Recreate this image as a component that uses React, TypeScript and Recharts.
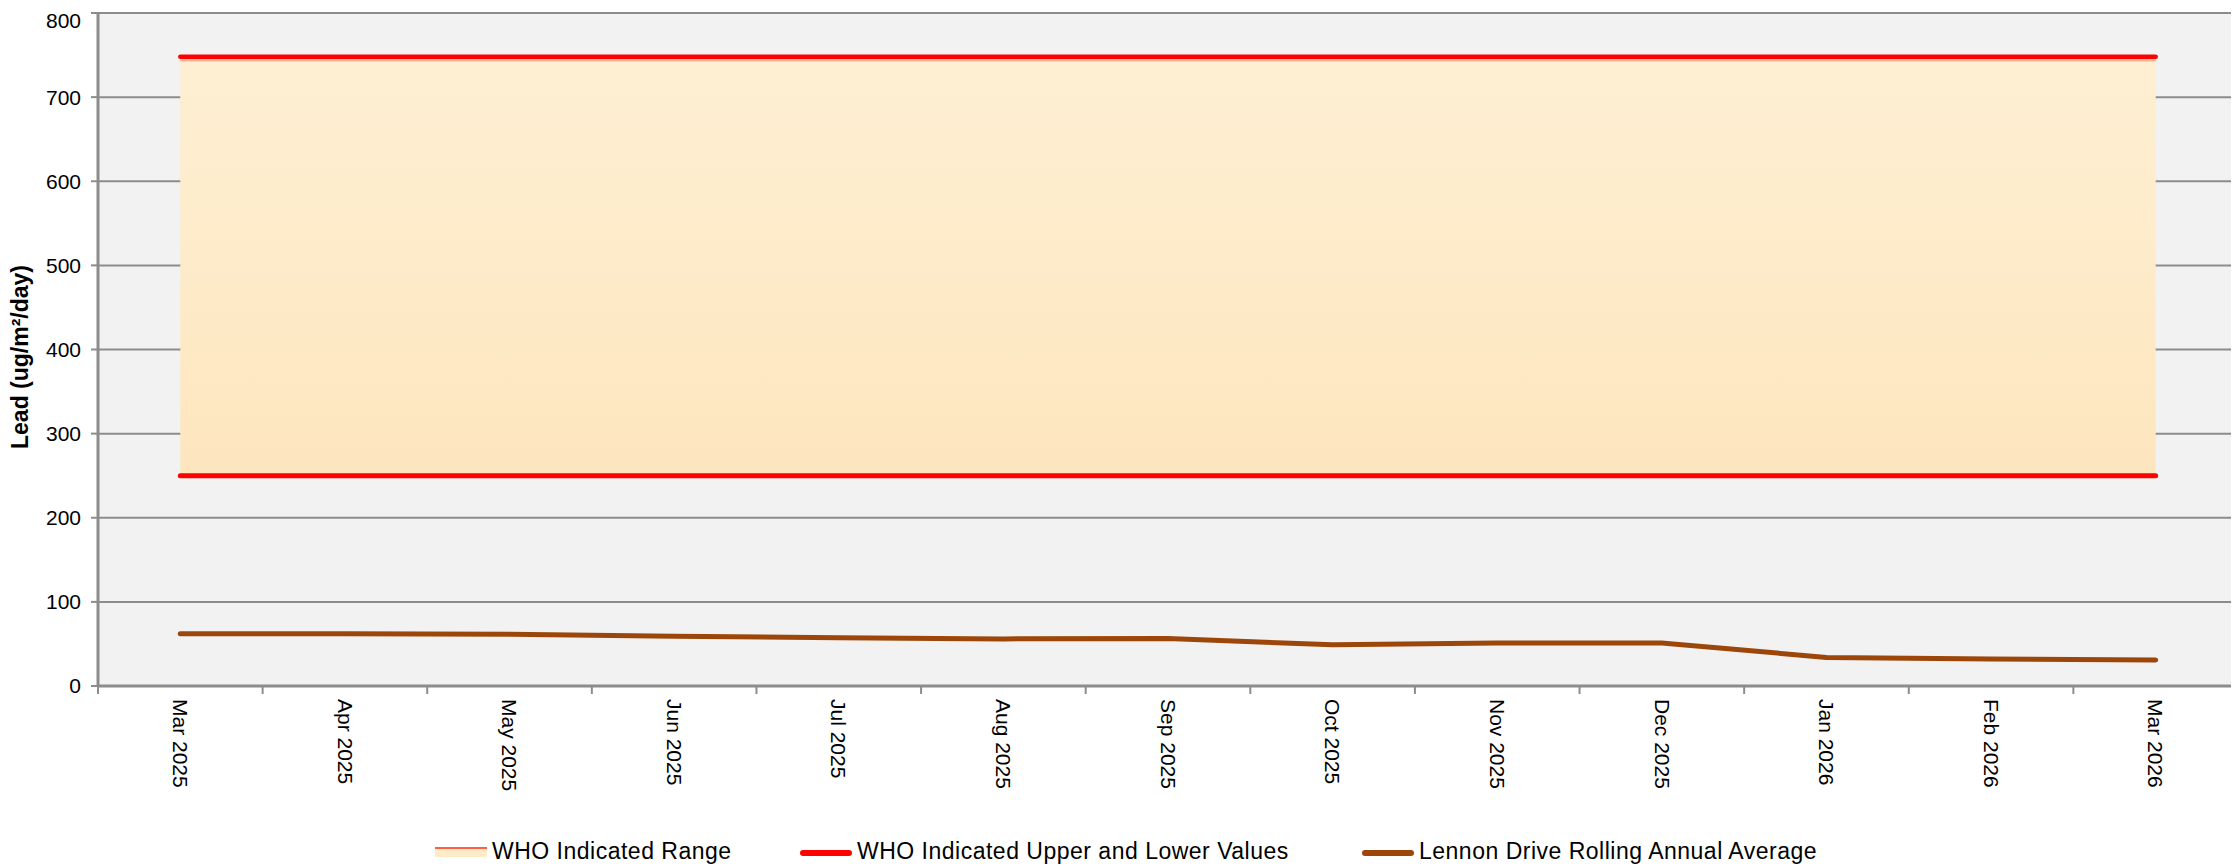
import React from 'react';
import { ComposedChart, Area, Line, XAxis, YAxis, CartesianGrid, ReferenceLine } from 'recharts';

const months = [
  'Mar 2025', 'Apr 2025', 'May 2025', 'Jun 2025', 'Jul 2025', 'Aug 2025', 'Sep 2025',
  'Oct 2025', 'Nov 2025', 'Dec 2025', 'Jan 2026', 'Feb 2026', 'Mar 2026',
];
const lennonAvg = [62, 62, 61.5, 59, 57.5, 56, 56.5, 49, 51, 51, 34, 32, 31];
const whoLower = [250, 250, 250, 250, 250, 250, 250, 250, 250, 250, 250, 250, 250];
const whoUpper = [748, 748, 748, 748, 748, 748, 748, 748, 748, 748, 748, 748, 748];
const rangeTop = [744, 744, 744, 744, 744, 744, 744, 744, 744, 744, 744, 744, 744];
const yTicks = [0, 100, 200, 300, 400, 500, 600, 700, 800];

const data = months.map((m, i) => ({
  i,
  month: m,
  range: [whoLower[i], rangeTop[i]],
  upper: whoUpper[i],
  lower: whoLower[i],
  lennon: lennonAvg[i],
}));

// ticks at every half step: integers carry labels, halves carry the tick marks between months
const xTicks: number[] = [];
for (let k = -1; k < months.length * 2; k++) xTicks.push(k / 2);

const FONT = '"Liberation Sans", Arial, sans-serif';
const GRID = '#8C8C8C';

const XTick = (props: any) => {
  const { x, y, payload } = props;
  const v = payload.value as number;
  if (Number.isInteger(v)) {
    return (
      <text
        x={x}
        y={y + 13}
        transform={`rotate(90, ${x}, ${y + 13})`}
        textAnchor="start"
        dy="0.35em"
        fontSize={21}
        fontFamily={FONT}
        fill="#000"
      >
        {months[v]}
      </text>
    );
  }
  return <line x1={x} x2={x} y1={y} y2={y + 8} stroke={GRID} strokeWidth={2} />;
};

const LegendIcon = ({ kind }: { kind: 'range' | 'red' | 'brown' }) => (
  <svg width={52} height={16} style={{ display: 'block' }}>
    {kind === 'range' && (
      <>
        <rect x={0} y={5} width={52} height={8} fill="#FEEBC8" />
        <line x1={0} x2={52} y1={4} y2={4} stroke="#FF2A00" strokeWidth={1.5} />
      </>
    )}
    {kind === 'red' && <line x1={3} x2={49} y1={9} y2={9} stroke="#FF0000" strokeWidth={6} strokeLinecap="round" />}
    {kind === 'brown' && <line x1={3} x2={49} y1={9} y2={9} stroke="#9C4709" strokeWidth={6} strokeLinecap="round" />}
  </svg>
);

const legendItems: { kind: 'range' | 'red' | 'brown'; label: string; left: number }[] = [
  { kind: 'range', label: 'WHO Indicated Range', left: 427 },
  { kind: 'red', label: 'WHO Indicated Upper and Lower Values', left: 792 },
  { kind: 'brown', label: 'Lennon Drive Rolling Annual Average', left: 1354 },
];

export default function App() {
  return (
    <div style={{ position: 'relative', width: 2231, height: 857, fontFamily: FONT }}>
      <ComposedChart width={2231} height={857} data={data} margin={{ top: 5, right: 1, left: 0, bottom: 0 }}>
        <defs>
          <linearGradient id="rangeFill" x1="0" y1="0" x2="0" y2="1">
            <stop offset="0%" stopColor="#FEEFD3" />
            <stop offset="100%" stopColor="#FDE6BE" />
          </linearGradient>
        </defs>
        <CartesianGrid vertical={false} stroke={GRID} strokeWidth={2} fill="#F2F2F2" />
        <XAxis
          type="number"
          dataKey="i"
          domain={[-0.5, months.length - 0.5]}
          ticks={xTicks}
          interval={0}
          tickLine={false}
          tickSize={0}
          tickMargin={0}
          tick={<XTick />}
          height={179}
          axisLine={{ stroke: GRID, strokeWidth: 3 }}
        />
        <YAxis
          domain={[0, 800]}
          ticks={yTicks}
          width={90}
          tickSize={7}
          tickMargin={10}
          tickLine={{ stroke: GRID, strokeWidth: 2 }}
          axisLine={{ stroke: GRID, strokeWidth: 3 }}
          tick={{ fill: '#000', fontSize: 21, fontFamily: FONT }}
          label={{
            content: () => (
              <text
                x={12}
                y={349}
                transform="rotate(-90, 12, 349)"
                textAnchor="middle"
                dominantBaseline="central"
                fontSize={23}
                fontWeight="bold"
                fontFamily={FONT}
                fill="#000"
              >
                Lead (ug/m²/day)
              </text>
            ),
          }}
        />
        <ReferenceLine x={months.length - 0.5} stroke={GRID} strokeWidth={2} />
        <Area
          type="linear"
          dataKey="range"
          fill="url(#rangeFill)"
          fillOpacity={1}
          stroke="#FFB69C"
          strokeWidth={3}
          isAnimationActive={false}
        />
        <Line type="linear" dataKey="upper" stroke="#FF0000" strokeWidth={4.5} dot={false} strokeLinecap="round" isAnimationActive={false} />
        <Line type="linear" dataKey="lower" stroke="#FF0000" strokeWidth={5} dot={false} strokeLinecap="round" isAnimationActive={false} />
        <Line type="linear" dataKey="lennon" stroke="#9C4709" strokeWidth={5} dot={false} strokeLinecap="round" isAnimationActive={false} />
      </ComposedChart>
      {legendItems.map((it) => (
        <div
          key={it.label}
          style={{
            position: 'absolute',
            left: it.left,
            top: 830,
            display: 'flex',
            alignItems: 'center',
            fontSize: 23,
            letterSpacing: 0.5,
            color: '#000',
            whiteSpace: 'nowrap',
          }}
        >
          <LegendIcon kind={it.kind} />
          <span style={{ marginLeft: 5 }}>{it.label}</span>
        </div>
      ))}
    </div>
  );
}
